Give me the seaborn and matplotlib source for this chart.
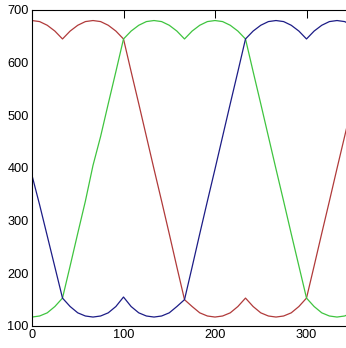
import matplotlib
matplotlib.use("Agg")
import matplotlib.pyplot as plt
import seaborn as sns
import pandas as pd

# sample positions (x)
x = [0, 8.33, 16.67, 25, 33.33, 41.67, 50, 58.33, 66.67, 75, 83.33, 91.67,
     100, 108.33, 116.67, 125, 133.33, 141.67, 150, 158.33, 166.67, 175,
     183.33, 191.67, 200, 208.33, 216.67, 225, 233.33, 241.67, 250, 258.33,
     266.67, 275, 283.33, 291.67, 300, 308.33, 316.67, 325, 333.33, 341.67, 350]

red = [680, 678, 671, 660, 645, 660, 671, 678, 680, 678, 671, 660,
       645, 583, 522, 460, 398, 337, 275, 212, 150, 137,
       125, 119, 117, 119, 125, 137, 153, 137, 125, 119,
       117, 119, 125, 137, 153, 214, 276, 337, 399, 460, 521]

green = [117, 119, 125, 137, 153, 214, 276, 337, 405, 460, 522, 583,
         645, 660, 671, 678, 680, 678, 671, 660, 645, 660,
         671, 678, 680, 678, 671, 660, 645, 583, 522, 460,
         398, 337, 275, 214, 153, 137, 125, 119, 117, 119, 125]

blue = [386, 330, 271, 212, 153, 137, 125, 119, 117, 119, 125, 137,
        155, 137, 125, 119, 117, 119, 125, 137, 150, 212,
        275, 337, 398, 460, 522, 583, 645, 660, 671, 678,
        680, 678, 671, 660, 645, 660, 671, 678, 680, 678, 671]

xticks = [0, 100, 200, 300]
yticks = [100, 200, 300, 400, 500, 600, 700]

sns.set_theme(style="white")
plt.rcParams["font.family"] = ["Liberation Sans", "DejaVu Sans"]

W, H = 346, 348
fig = plt.figure(figsize=(W / 100, H / 100), dpi=100)
fig.patch.set_facecolor("white")
# axes: left spine at 32px, top at 10px, bottom at 326px; x scale 0.915 px/unit, extends past right edge
ax = fig.add_axes([32 / W, (H - 326) / H, 360 * 0.915 / W, 316 / H])
ax.set_facecolor("white")

df = pd.DataFrame({"x": x, "red": red, "green": green, "blue": blue})
sns.lineplot(data=df, x="x", y="red", color="#b03a3a", lw=0.9, ax=ax)
sns.lineplot(data=df, x="x", y="green", color="#3fc43f", lw=0.9, ax=ax)
sns.lineplot(data=df, x="x", y="blue", color="#1c1c86", lw=0.9, ax=ax)

ax.set_xlim(0, 360)
ax.set_ylim(100, 700)
ax.set_xticks(xticks)
ax.set_yticks(yticks)
ax.set_xlabel("")
ax.set_ylabel("")
ax.tick_params(direction="in", length=5.5, width=0.75, colors="black",
               labelsize=9.2, top=True, right=True, pad=2.5)
for s in ax.spines.values():
    s.set_color("black")
    s.set_linewidth(0.8)
    s.set_visible(True)

fig.savefig("out.png", dpi=100, facecolor="white")
